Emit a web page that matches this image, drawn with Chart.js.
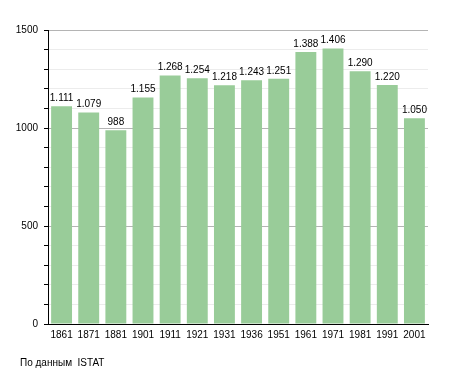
<!DOCTYPE html>
<html>
<head>
<meta charset="utf-8">
<script src="https://cdn.jsdelivr.net/npm/chart.js@4/dist/chart.umd.min.js"></script>
<style>
    body { margin: 0; background: #fff; }
    #wrap { position: relative; width: 455px; height: 373px; }
    #source {
        position: absolute; left: 20px; top: 357px;
        font: 10px "Liberation Sans", Arial, sans-serif; color: #000;
        white-space: pre;
    }
</style>
</head>
<body>
<div id="wrap">
    <canvas id="chart" width="455" height="373"></canvas>
    <div id="source">По данным  ISTAT</div>
</div>
<script>
// Population by census year
const years = ['1861', '1871', '1881', '1901', '1911', '1921', '1931', '1936', '1951', '1961', '1971', '1981', '1991', '2001'];
const population = [1111, 1079, 988, 1155, 1268, 1254, 1218, 1243, 1251, 1388, 1406, 1290, 1220, 1050];
const yLabels = [0, 500, 1000, 1500];

const FONT = '"Liberation Sans", Arial, sans-serif';

function formatIt(v) {
    return String(v).replace(/\B(?=(\d{3})+(?!\d))/g, '.');
}

// values drawn above each bar
const valueLabels = {
    id: 'valueLabels',
    afterDatasetsDraw(chart) {
        const ctx = chart.ctx;
        const meta = chart.getDatasetMeta(0);
        ctx.save();
        ctx.font = '10px ' + FONT;
        ctx.fillStyle = '#000';
        ctx.textAlign = 'center';
        ctx.textBaseline = 'bottom';
        meta.data.forEach(function(bar, i) {
            ctx.fillText(formatIt(population[i]), bar.x, bar.y - 3);
        });
        ctx.restore();
    }
};

new Chart(document.getElementById('chart').getContext('2d'), {
    type: 'bar',
    data: {
        labels: years,
        datasets: [{
            data: population,
            backgroundColor: 'rgb(153, 204, 153)',
            categoryPercentage: 1,
            barPercentage: 0.77
        }]
    },
    options: {
        responsive: false,
        animation: false,
        layout: { padding: { top: 30, right: 27, bottom: 0, left: 0 } },
        plugins: {
            legend: { display: false },
            tooltip: { enabled: false }
        },
        scales: {
            x: {
                afterFit: function(scale) { scale.height = 49; },
                grid: { display: false },
                border: { display: true, color: '#000', width: 1 },
                ticks: {
                    autoSkip: false,
                    maxRotation: 0,
                    padding: -3,
                    color: '#000',
                    font: { family: FONT, size: 10 }
                }
            },
            y: {
                min: 0,
                max: 1500,
                afterFit: function(scale) { scale.width = 48; },
                border: { display: true, color: '#000', width: 1 },
                grid: {
                    color: function(c) {
                        return yLabels.includes(c.tick.value) ? '#b4b4b4' : '#ececec';
                    },
                    tickColor: '#000',
                    tickLength: 4
                },
                ticks: {
                    stepSize: 100,
                    padding: 6,
                    color: '#000',
                    font: { family: FONT, size: 10 },
                    callback: function(v) {
                        return yLabels.includes(v) ? String(v) : '';
                    }
                }
            }
        }
    },
    plugins: [valueLabels]
});
</script>
</body>
</html>
